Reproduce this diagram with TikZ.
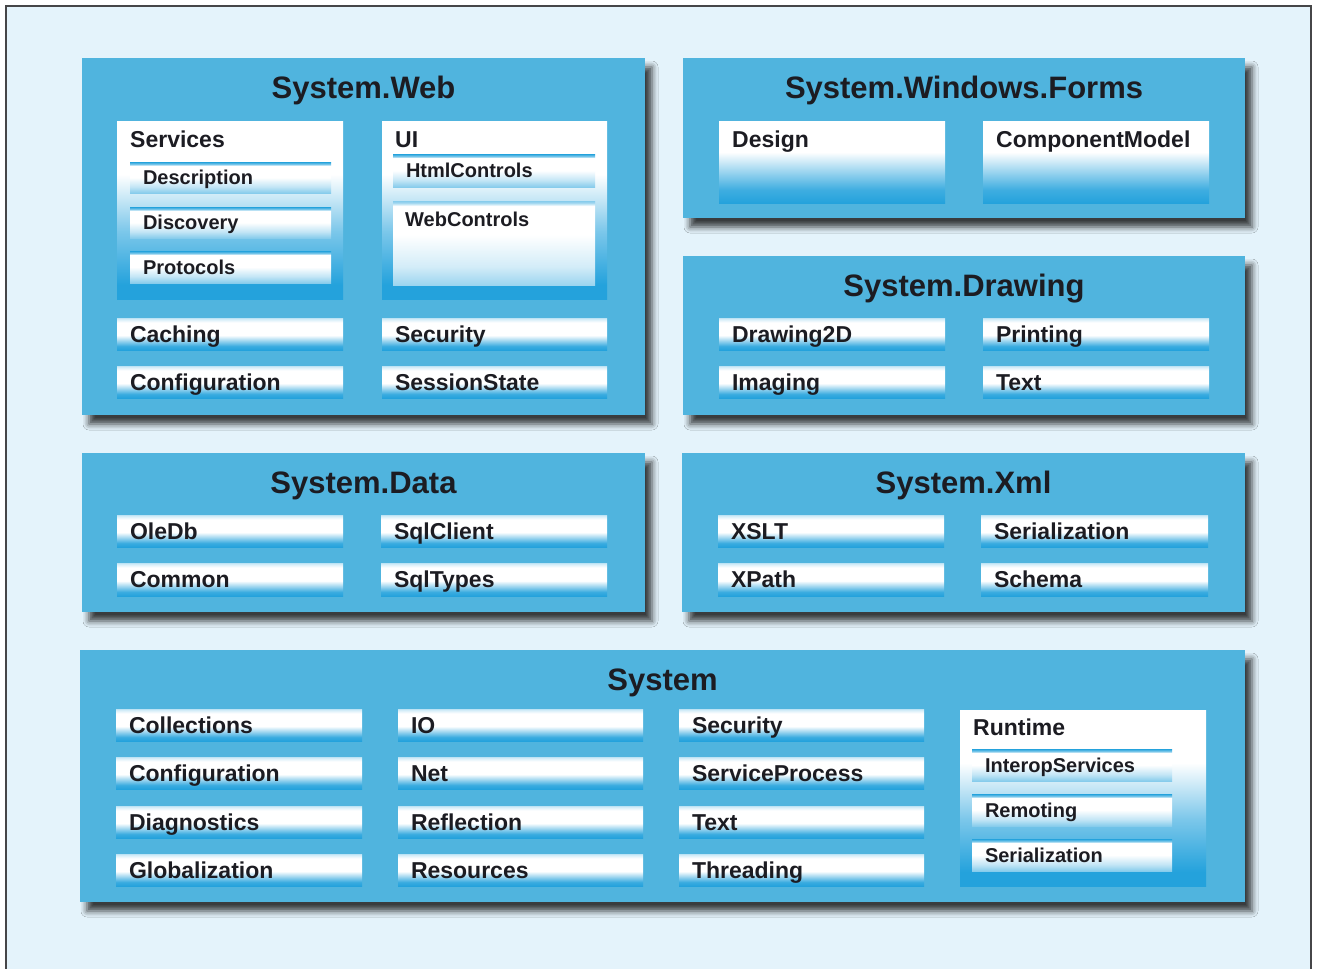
\documentclass[tikz,border=0pt]{standalone}
\usepackage{fontspec}
\setmainfont{Liberation Sans}
\usetikzlibrary{shadows.blur}
\definecolor{pagebg}{RGB}{228,243,251}
\definecolor{framec}{RGB}{70,70,72}
\definecolor{panelblue}{RGB}{80,180,222}
\definecolor{barblue}{RGB}{36,162,220}
\definecolor{inkc}{RGB}{28,28,34}
\pgfdeclareverticalshading{barsh}{100bp}{color(0bp)=(barblue); color(25bp)=(barblue); color(31bp)=(barblue!90!white); color(48bp)=(white); color(68bp)=(white); color(73bp)=(barblue!18!white); color(75bp)=(barblue!30!white); color(100bp)=(barblue!30!white)}
\pgfdeclareverticalshading{subsh}{100bp}{color(0bp)=(barblue!55!white); color(25bp)=(barblue!55!white); color(35bp)=(barblue!28!white); color(50bp)=(white); color(69bp)=(white); color(71bp)=(barblue!55!white); color(75bp)=(barblue); color(100bp)=(barblue)}
\pgfdeclareverticalshading{contsh}{100bp}{color(0bp)=(barblue); color(29bp)=(barblue); color(44bp)=(barblue!60!white); color(60bp)=(white); color(75bp)=(white); color(100bp)=(white)}
\pgfdeclareverticalshading{formsh}{100bp}{color(0bp)=(barblue); color(25bp)=(barblue); color(33bp)=(barblue!88!white); color(56bp)=(white); color(75bp)=(white); color(100bp)=(white)}
\pgfdeclareverticalshading{subboxsh}{100bp}{color(0bp)=(barblue!45!white); color(25bp)=(barblue!45!white); color(36bp)=(barblue!20!white); color(55bp)=(white); color(72bp)=(white); color(74bp)=(barblue!45!white); color(75bp)=(barblue!55!white); color(100bp)=(barblue!55!white)}
\tikzset{
  panel/.style={rectangle, fill=panelblue, draw=none, inner sep=0pt, outer sep=0pt,
    blur shadow={shadow xshift=7pt, shadow yshift=-9pt, shadow blur radius=6pt, shadow opacity=75}},
  ptitle/.style={font=\fontsize{31}{37}\selectfont\bfseries, text=inkc, anchor=base, inner sep=0pt, yshift=-40pt},
  itembar/.style={rectangle, shade, shading=barsh, draw=none, inner xsep=13pt, inner ysep=0pt, outer sep=0pt,
    align=left, font=\fontsize{23}{27}\selectfont\bfseries, text=inkc, text height=16.5pt, text depth=0pt},
  subbar/.style={itembar, shading=subsh, font=\fontsize{20}{24}\selectfont\bfseries, text height=14.5pt},
  contbox/.style={rectangle, shade, shading=contsh, draw=none, inner sep=0pt, outer sep=0pt},
  formbox/.style={contbox, shading=formsh},
  subbox/.style={contbox, shading=subboxsh},
  boxlbl/.style={font=\fontsize{23}{27}\selectfont\bfseries, text=inkc, anchor=base west, inner sep=0pt, xshift=13pt, yshift=-26pt},
  sublbl/.style={boxlbl, font=\fontsize{20}{24}\selectfont\bfseries, xshift=-1pt, yshift=1pt}
}
% name, style, x1, y1, x2, y2
\newcommand\mkbox[6]{%
  \pgfmathsetmacro\bxw{#5-#3}\pgfmathsetmacro\bxh{#6-#4}%
  \pgfmathsetmacro\bxx{(#3+#5)/2}\pgfmathsetmacro\bxy{(#4+#6)/2}%
  \node[#2, minimum width=\bxw pt, minimum height=\bxh pt] (#1) at (\bxx,\bxy) {};}
% name, style, x1, y1, x2, y2, text
\newcommand\mkbar[7]{%
  \pgfmathsetmacro\bxw{#5-#3}\pgfmathsetmacro\bxh{#6-#4}%
  \pgfmathsetmacro\bxt{#5-#3-26}%
  \pgfmathsetmacro\bxx{(#3+#5)/2}\pgfmathsetmacro\bxy{(#4+#6)/2}%
  \node[#2, minimum width=\bxw pt, minimum height=\bxh pt, text width=\bxt pt] (#1) at (\bxx,\bxy) {#7};}
\begin{document}
\begin{tikzpicture}[x=1pt, y=-1pt]
\useasboundingbox (0,0) rectangle (1317,969);
\fill[white] (0,0) rectangle (1317,969);
\draw[line width=1.4pt, draw=framec, fill=pagebg] (6,6) rectangle (1311,1000);

% ---------- panels ----------
\mkbox{web}{panel}{82}{58}{645}{415}
\mkbox{forms}{panel}{683}{58}{1245}{218}
\mkbox{drawing}{panel}{683}{256}{1245}{415}
\mkbox{data}{panel}{82}{453}{645}{612}
\mkbox{xml}{panel}{682}{453}{1245}{612}
\mkbox{sys}{panel}{80}{650}{1245}{902}

\node[ptitle] (web-t) at (web.north) {System.Web};
\node[ptitle] (forms-t) at (forms.north) {System.Windows.Forms};
\node[ptitle] (drawing-t) at (drawing.north) {System.Drawing};
\node[ptitle] (data-t) at (data.north) {System.Data};
\node[ptitle] (xml-t) at (xml.north) {System.Xml};
\node[ptitle] (sys-t) at (sys.north) {System};

% ---------- System.Web ----------
\mkbox{svc}{contbox}{117}{121}{343}{299}
\node[boxlbl] (svc-t) at (svc.north west) {Services};
\mkbar{desc}{subbar}{130}{162}{331}{193}{Description}
\mkbar{disc}{subbar}{130}{207}{331}{238}{Discovery}
\mkbar{prot}{subbar}{130}{251}{331}{283}{Protocols}
\mkbox{ui}{contbox}{382}{121}{607}{299}
\node[boxlbl] (ui-t) at (ui.north west) {UI};
\mkbar{html}{subbar}{393}{154}{595}{187}{HtmlControls}
\mkbox{webc}{subbox}{393}{201}{595}{285}
\node[sublbl] (webc-t) at (webc.north west) {WebControls};
\mkbar{cach}{itembar}{117}{318}{343}{350}{Caching}
\mkbar{wsec}{itembar}{382}{318}{607}{350}{Security}
\mkbar{wcfg}{itembar}{117}{366}{343}{398}{Configuration}
\mkbar{sess}{itembar}{382}{366}{607}{398}{SessionState}

% ---------- System.Windows.Forms ----------
\mkbox{design}{formbox}{719}{121}{945}{203}
\node[boxlbl] (design-t) at (design.north west) {Design};
\mkbox{compm}{formbox}{983}{121}{1209}{203}
\node[boxlbl] (compm-t) at (compm.north west) {ComponentModel};

% ---------- System.Drawing ----------
\mkbar{d2d}{itembar}{719}{318}{945}{350}{Drawing2D}
\mkbar{print}{itembar}{983}{318}{1209}{350}{Printing}
\mkbar{imag}{itembar}{719}{366}{945}{398}{Imaging}
\mkbar{dtext}{itembar}{983}{366}{1209}{398}{Text}

% ---------- System.Data ----------
\mkbar{oledb}{itembar}{117}{515}{343}{547}{OleDb}
\mkbar{sqlc}{itembar}{381}{515}{607}{547}{SqlClient}
\mkbar{comm}{itembar}{117}{563}{343}{596}{Common}
\mkbar{sqlt}{itembar}{381}{563}{607}{596}{SqlTypes}

% ---------- System.Xml ----------
\mkbar{xslt}{itembar}{718}{515}{944}{547}{XSLT}
\mkbar{xser}{itembar}{981}{515}{1208}{547}{Serialization}
\mkbar{xpath}{itembar}{718}{563}{944}{596}{XPath}
\mkbar{schema}{itembar}{981}{563}{1208}{596}{Schema}

% ---------- System ----------
\mkbar{coll}{itembar}{116}{709}{362}{741}{Collections}
\mkbar{scfg}{itembar}{116}{757}{362}{789}{Configuration}
\mkbar{diag}{itembar}{116}{806}{362}{838}{Diagnostics}
\mkbar{glob}{itembar}{116}{854}{362}{886}{Globalization}
\mkbar{io}{itembar}{398}{709}{643}{741}{IO}
\mkbar{net}{itembar}{398}{757}{643}{789}{Net}
\mkbar{refl}{itembar}{398}{806}{643}{838}{Reflection}
\mkbar{res}{itembar}{398}{854}{643}{886}{Resources}
\mkbar{ssec}{itembar}{679}{709}{924}{741}{Security}
\mkbar{sproc}{itembar}{679}{757}{924}{789}{ServiceProcess}
\mkbar{stext}{itembar}{679}{806}{924}{838}{Text}
\mkbar{thread}{itembar}{679}{854}{924}{886}{Threading}
\mkbox{rt}{contbox}{960}{710}{1206}{886}
\node[boxlbl, yshift=1pt] (rt-t) at (rt.north west) {Runtime};
\mkbar{interop}{subbar}{972}{749}{1172}{781}{InteropServices}
\mkbar{remot}{subbar}{972}{794}{1172}{826}{Remoting}
\mkbar{rser}{subbar}{972}{839}{1172}{871}{Serialization}
\end{tikzpicture}
\end{document}
